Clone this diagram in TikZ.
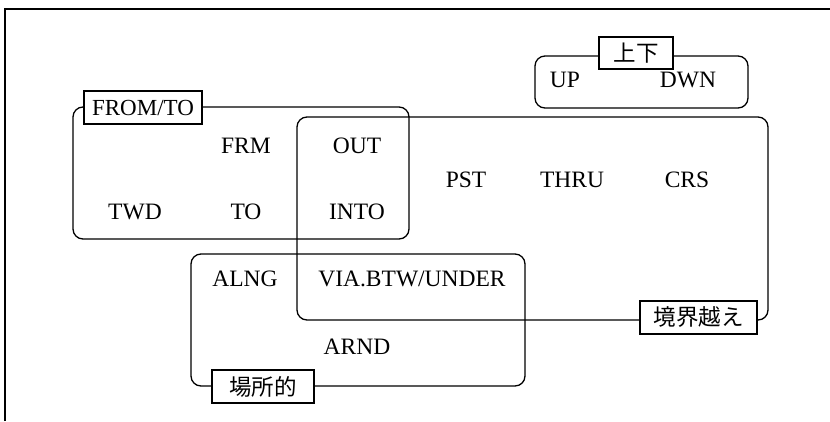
\documentclass[tikz,border=0pt]{standalone}
\usepackage{fontspec}
\setmainfont{Liberation Serif}
\newfontfamily\jp{Noto Sans CJK JP}
\begin{document}
\begin{tikzpicture}[x=1pt,y=-1pt,
  grp/.style={draw, line width=1.3pt, rounded corners=10pt, inner sep=0pt},
  lab/.style={draw, line width=1.2pt, fill=white, inner sep=0pt, minimum height=33pt, font=\jp\fontsize{22.5}{26}\selectfont},
  latlab/.style={draw, line width=1.2pt, fill=white, inner sep=0pt, minimum height=33pt, font=\fontsize{23}{27}\selectfont},
  word/.style={inner sep=0pt, text height=15.5pt, text depth=0pt, font=\fontsize{23.5}{27}\selectfont}]
\useasboundingbox (0,0) rectangle (830,421);
\fill[white] (0,0) rectangle (830,421);
\draw[line width=2pt] (5,421) -- (5,9) -- (830,9);
% groups
\node[grp, minimum width=213pt, minimum height=52pt] (updown) at (641.5,82) {};
\node[grp, minimum width=336pt, minimum height=132pt] (fromto) at (241,173) {};
\node[grp, minimum width=471pt, minimum height=203pt] (cross) at (532.5,218.5) {};
\node[grp, minimum width=334pt, minimum height=132pt] (place) at (358,320) {};
% labels
\node[lab, minimum width=74pt, minimum height=32pt] (lud) at (636,53) {上下};
\node[latlab, minimum width=118pt] (lft) at (143,107.5) {FROM/TO};
\node[lab, minimum width=117pt] (lcr) at (698.5,317.5) {境界越え};
\node[lab, minimum width=102pt] (lpl) at (263,386.5) {場所的};
% words
\node[word] (up) at (565,80) {UP};
\node[word] (dwn) at (688,80) {DWN};
\node[word] (frm) at (246,146) {FRM};
\node[word] (out) at (357,146) {OUT};
\node[word] (twd) at (135,212) {TWD};
\node[word] (to) at (246,212) {TO};
\node[word] (into) at (357,212) {INTO};
\node[word] (pst) at (466,180) {PST};
\node[word] (thru) at (572,180) {THRU};
\node[word] (crs) at (687,180) {CRS};
\node[word] (alng) at (245,279) {ALNG};
\node[word] (via) at (412,279) {VIA.BTW/UNDER};
\node[word] (arnd) at (357,347) {ARND};
\end{tikzpicture}
\end{document}
